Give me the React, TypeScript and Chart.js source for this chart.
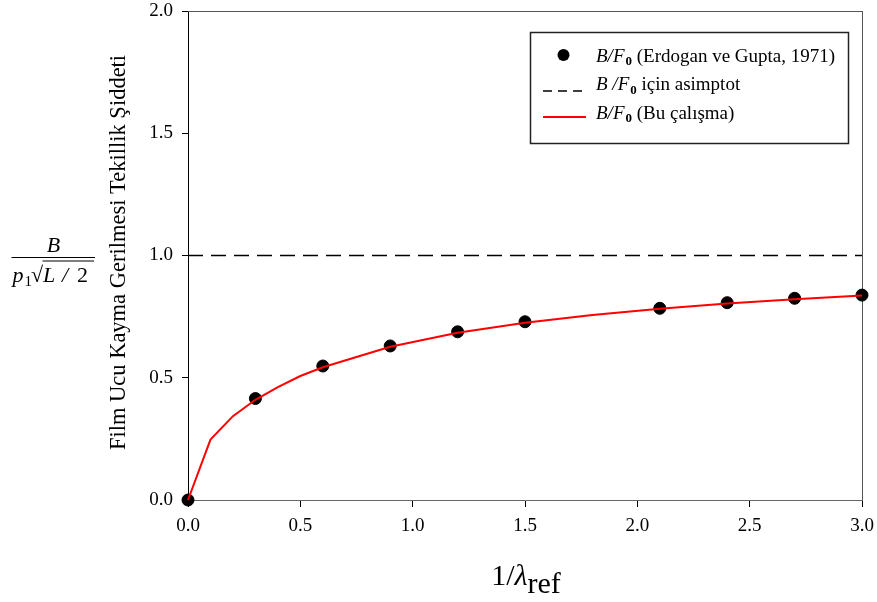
import React, { useEffect, useRef } from "react";
import { Chart, registerables } from "chart.js";

Chart.register(...registerables);

// Erdogan & Gupta (1971) reference points
const refX = [0, 0.3, 0.6, 0.9, 1.2, 1.5, 2.1, 2.4, 2.7, 3.0];
const refY = [0, 0.415, 0.548, 0.63, 0.688, 0.729, 0.784, 0.807, 0.825, 0.838];
// This study (red curve)
const curveX = [0, 0.1, 0.2, 0.3, 0.4, 0.5, 0.6, 0.9, 1.2, 1.5, 1.8, 2.1, 2.4, 2.7, 3.0];
const curveY = [0, 0.247, 0.343, 0.41, 0.462, 0.507, 0.543, 0.627, 0.684, 0.725, 0.757, 0.782, 0.804, 0.821, 0.836];
// Asymptote
const asymX = [0, 3];
const asymY = [1, 1];
// Ticks
const xTicks = [0, 0.5, 1.0, 1.5, 2.0, 2.5, 3.0];
const yTicks = [0, 0.5, 1.0, 1.5, 2.0];

const SERIF = '"Liberation Serif", "Times New Roman", serif';

type Run = { t: string; f: string; dy?: number; dx?: number };

function drawRuns(ctx: CanvasRenderingContext2D, x: number, y: number, runs: Run[]) {
  let cx = x;
  for (const r of runs) {
    ctx.font = r.f;
    cx += r.dx || 0;
    ctx.fillText(r.t, cx, y + (r.dy || 0));
    cx += ctx.measureText(r.t).width;
  }
  return cx;
}

function runsWidth(ctx: CanvasRenderingContext2D, runs: Run[]) {
  let w = 0;
  for (const r of runs) {
    ctx.font = r.f;
    w += (r.dx || 0) + ctx.measureText(r.t).width;
  }
  return w;
}

const framePlugin = {
  id: "frame",
  beforeDatasetsDraw(chart: any) {
    const { ctx, chartArea } = chart;
    ctx.save();
    ctx.strokeStyle = "#555";
    ctx.lineWidth = 1;
    ctx.beginPath();
    ctx.moveTo(chartArea.left, chartArea.top + 0.5);
    ctx.lineTo(chartArea.right, chartArea.top + 0.5);
    ctx.moveTo(chartArea.right + 0.5, chartArea.top);
    ctx.lineTo(chartArea.right + 0.5, chartArea.bottom);
    ctx.stroke();
    ctx.restore();
  },
};

const textPlugin = {
  id: "texts",
  afterDraw(chart: any) {
    const ctx: CanvasRenderingContext2D = chart.ctx;
    ctx.save();
    ctx.fillStyle = "#000";
    ctx.strokeStyle = "#000";
    ctx.textAlign = "left";
    ctx.textBaseline = "alphabetic";

    // Legend box
    ctx.lineWidth = 1.5;
    ctx.strokeStyle = "#222";
    ctx.strokeRect(530.5, 32.5, 318, 111);

    // Legend marks
    ctx.fillStyle = "#000";
    ctx.beginPath();
    ctx.arc(563.5, 55, 6, 0, Math.PI * 2);
    ctx.fill();

    ctx.strokeStyle = "#000";
    ctx.lineWidth = 1.3;
    ctx.setLineDash([9, 6]);
    ctx.beginPath();
    ctx.moveTo(543, 91);
    ctx.lineTo(583, 91);
    ctx.stroke();
    ctx.setLineDash([]);

    ctx.strokeStyle = "#ff0000";
    ctx.lineWidth = 2;
    ctx.beginPath();
    ctx.moveTo(543, 117);
    ctx.lineTo(586, 117);
    ctx.stroke();

    const it = `italic 19px ${SERIF}`;
    const rm = `19px ${SERIF}`;
    const sub = `bold 13px ${SERIF}`;
    ctx.fillStyle = "#000";
    drawRuns(ctx, 596, 61.5, [
      { t: "B/F", f: it },
      { t: "0", f: sub, dy: 3.5, dx: 1 },
      { t: " (Erdogan ve Gupta, 1971)", f: rm },
    ]);
    drawRuns(ctx, 596, 90, [
      { t: "B /F", f: it },
      { t: "0", f: sub, dy: 3.5, dx: 1 },
      { t: " için asimptot", f: rm },
    ]);
    drawRuns(ctx, 596, 118.5, [
      { t: "B/F", f: it },
      { t: "0", f: sub, dy: 3.5, dx: 1 },
      { t: " (Bu çalışma)", f: rm },
    ]);

    // Y axis title (rotated)
    ctx.save();
    ctx.translate(125, 252.5);
    ctx.rotate(-Math.PI / 2);
    ctx.textAlign = "center";
    ctx.font = `22.5px ${SERIF}`;
    ctx.fillText("Film Ucu Kayma Gerilmesi Tekillik Şiddeti", 0, 0);
    ctx.restore();

    // Fraction B / (p1 sqrt(L/2))
    ctx.textAlign = "center";
    ctx.font = `italic 22px ${SERIF}`;
    ctx.fillText("B", 53.5, 251.5);
    ctx.lineWidth = 1;
    ctx.strokeStyle = "#000";
    ctx.beginPath();
    ctx.moveTo(11.5, 257.5);
    ctx.lineTo(95, 257.5);
    ctx.stroke();
    ctx.textAlign = "left";
    ctx.font = `italic 22px ${SERIF}`;
    ctx.fillText("p", 12.5, 281.5);
    ctx.font = `15px ${SERIF}`;
    ctx.fillText("1", 24.5, 285.5);
    ctx.font = `22px ${SERIF}`;
    ctx.fillText("√", 31, 282);
    ctx.beginPath();
    ctx.moveTo(42.5, 261);
    ctx.lineTo(94, 261);
    ctx.stroke();
    ctx.font = `italic 22px ${SERIF}`;
    ctx.fillText("L", 43, 281.5);
    ctx.fillText("/", 62, 281.5);
    ctx.font = `22px ${SERIF}`;
    ctx.fillText("2", 77, 281.5);

    // X axis title 1/λ_ref
    const xr: Run[] = [
      { t: "1/", f: `30px ${SERIF}` },
      { t: "λ", f: `italic 30px ${SERIF}` },
      { t: "ref", f: `30px ${SERIF}`, dy: 7.5 },
    ];
    const w = runsWidth(ctx, xr);
    drawRuns(ctx, 526 - w / 2, 585, xr);

    ctx.restore();
  },
};

export default function App() {
  const canvasRef = useRef<HTMLCanvasElement>(null);

  useEffect(() => {
    const tickFont = { family: SERIF, size: 19 };
    const chart = new Chart(canvasRef.current!, {
      type: "scatter",
      data: {
        datasets: [
          {
            type: "line",
            label: "B/F0 (Bu çalışma)",
            data: curveX.map((x, i) => ({ x, y: curveY[i] })),
            borderColor: "#ff0000",
            backgroundColor: "#ff0000",
            borderWidth: 2,
            pointRadius: 0,
            tension: 0,
            fill: false,
            clip: false,
          } as any,
          {
            type: "line",
            label: "B/F0 için asimptot",
            data: asymX.map((x, i) => ({ x, y: asymY[i] })),
            borderColor: "#000",
            borderWidth: 1.3,
            borderDash: [15, 8],
            pointRadius: 0,
            fill: false,
            clip: false,
          } as any,
          {
            type: "scatter",
            label: "B/F0 (Erdogan ve Gupta, 1971)",
            data: refX.map((x, i) => ({ x, y: refY[i] })),
            backgroundColor: "#000",
            borderColor: "#000",
            pointRadius: 6,
            clip: false,
          } as any,
        ],
      },
      options: {
        animation: false,
        responsive: true,
        maintainAspectRatio: false,
        events: [],
        layout: { padding: { left: 0, top: 11, right: 15, bottom: 62 } },
        plugins: { legend: { display: false }, tooltip: { enabled: false } },
        scales: {
          x: {
            type: "linear",
            min: 0,
            max: 3,
            afterBuildTicks: (scale: any) => {
              scale.ticks = xTicks.map((v) => ({ value: v }));
            },
            afterFit: (scale: any) => {
              scale.height = 40;
              scale.paddingLeft = 0;
              scale.paddingRight = 0;
            },
            ticks: {
              font: tickFont,
              color: "#000",
              padding: 8,
              autoSkip: false,
              maxRotation: 0,
              callback: (v: any) => Number(v).toFixed(1),
            },
            grid: { drawOnChartArea: false, drawTicks: true, tickLength: 7, color: "#000" },
            border: { color: "#666", width: 1 },
          },
          y: {
            type: "linear",
            min: 0,
            max: 2,
            afterBuildTicks: (scale: any) => {
              scale.ticks = yTicks.map((v) => ({ value: v }));
            },
            afterFit: (scale: any) => {
              scale.width = 188;
              scale.paddingTop = 0;
              scale.paddingBottom = 0;
            },
            ticks: {
              font: tickFont,
              color: "#000",
              padding: 9,
              autoSkip: false,
              callback: (v: any) => Number(v).toFixed(1),
            },
            grid: { drawOnChartArea: false, drawTicks: true, tickLength: 6, color: "#000" },
            border: { color: "#000", width: 1 },
          },
        },
      } as any,
      plugins: [framePlugin, textPlugin],
    });
    return () => chart.destroy();
  }, []);

  return (
    <div style={{ position: "fixed", left: 0, top: 0, width: 877, height: 602, background: "#fff" }}>
      <canvas ref={canvasRef} />
    </div>
  );
}
